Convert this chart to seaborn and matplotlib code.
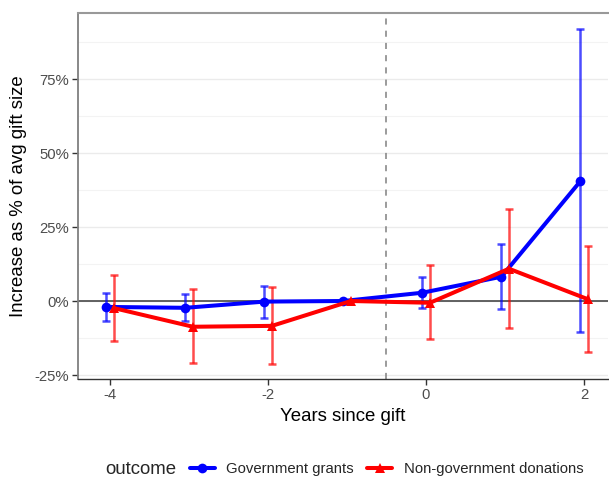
import matplotlib
matplotlib.use("Agg")
import matplotlib.pyplot as plt
import seaborn as sns
import pandas as pd
import numpy as np
from matplotlib.ticker import FuncFormatter, MultipleLocator
from matplotlib.lines import Line2D

years = [-4, -3, -2, -1, 0, 1, 2]
outcomes = ["Government grants", "Non-government donations"]
gov_est = [-2.0, -2.3, -0.2, 0.0, 2.8, 8.2, 40.5]
gov_lo = [-6.6, -6.8, -5.6, 0.0, -2.4, -2.7, -10.5]
gov_hi = [2.7, 2.4, 5.0, 0.0, 8.1, 19.3, 91.8]
non_est = [-2.4, -8.7, -8.4, 0.0, -0.6, 10.9, 0.6]
non_lo = [-13.4, -20.9, -21.2, 0.0, -13.0, -9.0, -17.3]
non_hi = [8.8, 4.0, 4.6, 0.0, 12.0, 31.0, 18.6]

colors = {"Government grants": "#0000FF", "Non-government donations": "#FF0000"}
markers = {"Government grants": "o", "Non-government donations": "^"}
dodge = {"Government grants": -0.045, "Non-government donations": 0.05}

df = pd.concat([
    pd.DataFrame({"year": years, "est": gov_est, "lo": gov_lo, "hi": gov_hi, "outcome": outcomes[0]}),
    pd.DataFrame({"year": years, "est": non_est, "lo": non_lo, "hi": non_hi, "outcome": outcomes[1]}),
], ignore_index=True)
df["xd"] = df["year"] + df["outcome"].map(dodge)

sns.set_theme(style="white")
plt.rcParams["font.family"] = ["Liberation Sans", "DejaVu Sans"]

fig = plt.figure(figsize=(6.09, 4.79), dpi=100)
ax = fig.add_axes([78 / 609, 1 - 379 / 479, (608 - 78) / 609, (379 - 13) / 479])

# gridlines
for v in [-25, 0, 25, 50, 75]:
    ax.axhline(v, color="#EBEBEB", lw=1.0, zorder=0)
for v in [-12.5, 12.5, 37.5, 62.5, 87.5]:
    ax.axhline(v, color="#F3F3F3", lw=0.8, zorder=0)

ax.axhline(0, color="#555555", lw=1.3, zorder=1)
ax.axvline(-0.5, color="#808080", lw=1.1, ls=(0, (4, 4)), zorder=1)

for name in outcomes:
    sub = df[df["outcome"] == name]
    m = sub["year"] != -1
    s = sub[m]
    ax.errorbar(s["xd"], s["est"], yerr=[s["est"] - s["lo"], s["hi"] - s["est"]],
                fmt="none", ecolor=colors[name], alpha=0.7, elinewidth=1.8,
                capsize=3.0, capthick=1.8, zorder=2)

sns.lineplot(data=df, x="xd", y="est", hue="outcome", style="outcome",
             palette=colors, markers=markers, dashes=False, linewidth=2.9,
             markersize=7, markeredgewidth=0, ax=ax, legend=False, zorder=3,
             estimator=None, sort=True)

ax.set_xlim(-4.405, 2.304)
ax.set_ylim(-26.35, 97.3)
ax.xaxis.set_major_locator(MultipleLocator(2))
ax.yaxis.set_major_locator(MultipleLocator(25))
ax.yaxis.set_major_formatter(FuncFormatter(lambda v, p: f"{v:.0f}%"))
ax.xaxis.set_major_formatter(FuncFormatter(lambda v, p: f"{v:.0f}"))

ax.tick_params(axis="both", which="major", length=4, width=1.0, color="#333333",
               labelsize=10.7, labelcolor="#4D4D4D", pad=2.5, left=True, bottom=True)

ax.spines["right"].set_visible(False)
ax.spines["top"].set_color("#999999")
ax.spines["top"].set_linewidth(1.5)
ax.spines["left"].set_color("#7F7F7F")
ax.spines["left"].set_linewidth(1.3)
ax.spines["bottom"].set_color("#333333")
ax.spines["bottom"].set_linewidth(1.0)

ax.set_xlabel("Years since gift", fontsize=13.4, color="black", labelpad=4)
ax.set_ylabel("Increase as % of avg gift size", fontsize=13.4, color="black", labelpad=5)

handles = [Line2D([0], [0], color=colors[n], lw=2.9, marker=markers[n], markersize=7,
                  markeredgewidth=0) for n in outcomes]
fig.text(105 / 609, 1 - 469 / 479, "outcome", fontsize=13.4, va="center", ha="left")
fig.legend(handles, outcomes, loc="center left", bbox_to_anchor=(190 / 609, 1 - 469 / 479),
           ncol=2, frameon=False, fontsize=10.7, handlelength=1.65, handletextpad=0.8,
           columnspacing=0.9, borderaxespad=0, borderpad=0)

fig.savefig("out.png", dpi=100)
